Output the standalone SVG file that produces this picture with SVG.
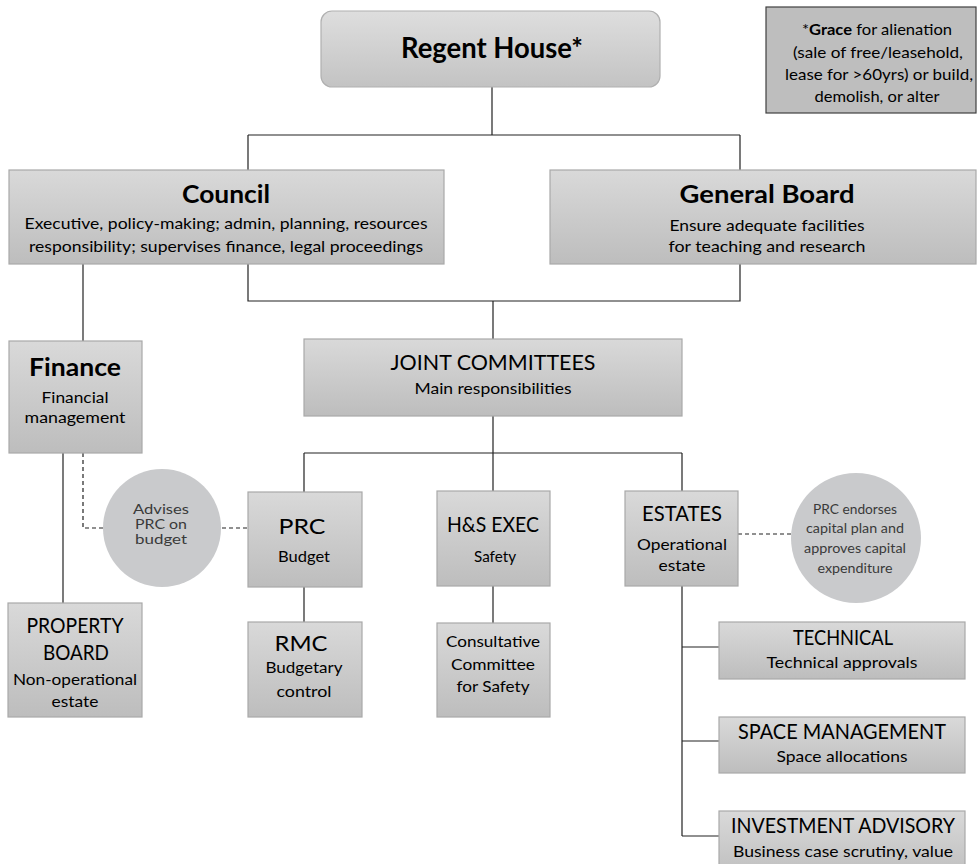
<svg xmlns="http://www.w3.org/2000/svg" width="977" height="864" viewBox="0 0 977 864">
<defs>
<linearGradient id="g" x1="0" y1="0" x2="0" y2="1">
<stop offset="0" stop-color="#d9d9d9"/>
<stop offset="1" stop-color="#bdbdbd"/>
</linearGradient>
<linearGradient id="g2" x1="0" y1="0" x2="0" y2="1">
<stop offset="0" stop-color="#dedede"/>
<stop offset="1" stop-color="#c3c3c3"/>
</linearGradient>
</defs>
<style>
.box{fill:url(#g);stroke:#a9a9a9;stroke-width:1.2}
.circ{fill:#c9cacc}
.t{font-family:Lato,"Open Sans","Liberation Sans",sans-serif;fill:#000;text-anchor:middle}
.b{font-weight:bold}
.h{font-size:21px}
.ct{font-family:Lato,"Open Sans","Liberation Sans",sans-serif;fill:#3a3a3a;text-anchor:middle}
.ln{fill:none;stroke:#222;stroke-width:1.2}
.dash{fill:none;stroke:#222;stroke-width:1.2;stroke-dasharray:4 3}
</style>
<rect width="977" height="864" fill="#fff"/>
<g id="connectors">
<path class="ln" d="M492,87V135M248,135H740M248,135V170M740,135V170"/>
<path class="ln" d="M248,264V301H740V264M493,301V339"/>
<path class="ln" d="M83,264V341"/>
<path class="ln" d="M493,416V453M304,453H682M304,453V492M493,453V491M682,453V491"/>
<path class="ln" d="M63,453V603"/>
<path class="dash" d="M83,453V528H103M222,528H248"/>
<path class="ln" d="M304,587V622"/>
<path class="ln" d="M493,586V623"/>
<path class="ln" d="M682,586V836M682,647H719M682,741H719M682,836H719"/>
<path class="dash" d="M738,534H791"/>
</g>
<g id="regent-house">
<rect x="321" y="11" width="339" height="76" rx="11" fill="url(#g2)" stroke="#b0b0b0" stroke-width="1.2"/>
<text class="t b" x="492" y="58" font-size="28" textLength="182" lengthAdjust="spacingAndGlyphs">Regent House*</text>
</g>
<g id="grace-note">
<rect x="766" y="7" width="210" height="106" fill="#bebebe" stroke="#404040" stroke-width="1.2"/>
<text class="t" x="877" y="35" font-size="16" textLength="150" lengthAdjust="spacingAndGlyphs">*<tspan font-weight="bold">Grace</tspan> for alienation</text>
<text class="t" x="878" y="58" font-size="16" textLength="170" lengthAdjust="spacingAndGlyphs">(sale of free/leasehold,</text>
<text class="t" x="879" y="80" font-size="16" textLength="188" lengthAdjust="spacingAndGlyphs">lease for &gt;60yrs) or build,</text>
<text class="t" x="877" y="102" font-size="16" textLength="125" lengthAdjust="spacingAndGlyphs">demolish, or alter</text>
</g>
<g id="council">
<rect class="box" x="9" y="170" width="435" height="94"/>
<text class="t b" x="226" y="203" font-size="24" textLength="88" lengthAdjust="spacingAndGlyphs">Council</text>
<text class="t" x="226" y="229" font-size="16" textLength="403" lengthAdjust="spacingAndGlyphs">Executive, policy-making; admin, planning, resources</text>
<text class="t" x="226" y="252" font-size="16" textLength="394" lengthAdjust="spacingAndGlyphs">responsibility; supervises finance, legal proceedings</text>
</g>
<g id="general-board">
<rect class="box" x="550" y="170" width="426" height="94"/>
<text class="t b" x="767" y="203" font-size="24" textLength="175" lengthAdjust="spacingAndGlyphs">General Board</text>
<text class="t" x="767" y="231" font-size="16" textLength="195" lengthAdjust="spacingAndGlyphs">Ensure adequate facilities</text>
<text class="t" x="767" y="252" font-size="16" textLength="197" lengthAdjust="spacingAndGlyphs">for teaching and research</text>
</g>
<g id="finance">
<rect class="box" x="9" y="341" width="133" height="112"/>
<text class="t b" x="75" y="376" font-size="24" textLength="92" lengthAdjust="spacingAndGlyphs">Finance</text>
<text class="t" x="75" y="403" font-size="16" textLength="67" lengthAdjust="spacingAndGlyphs">Financial</text>
<text class="t" x="75" y="423" font-size="16" textLength="101" lengthAdjust="spacingAndGlyphs">management</text>
</g>
<g id="joint-committees">
<rect class="box" x="304" y="339" width="378" height="77"/>
<text class="t h" x="493" y="370" textLength="205" lengthAdjust="spacingAndGlyphs">JOINT COMMITTEES</text>
<text class="t" x="493" y="394" font-size="16" textLength="157" lengthAdjust="spacingAndGlyphs">Main responsibilities</text>
</g>
<g id="advises-prc">
<circle class="circ" cx="162" cy="528" r="59"/>
<text class="ct" x="161" y="514" font-size="13" textLength="56" lengthAdjust="spacingAndGlyphs">Advises</text>
<text class="ct" x="161" y="529" font-size="13" textLength="52" lengthAdjust="spacingAndGlyphs">PRC on</text>
<text class="ct" x="161" y="544" font-size="13" textLength="52" lengthAdjust="spacingAndGlyphs">budget</text>
</g>
<g id="prc">
<rect class="box" x="248" y="492" width="114" height="95"/>
<text class="t h" x="302" y="534" textLength="47" lengthAdjust="spacingAndGlyphs">PRC</text>
<text class="t" x="304" y="562" font-size="16" textLength="52" lengthAdjust="spacingAndGlyphs">Budget</text>
</g>
<g id="hs-exec">
<rect class="box" x="437" y="491" width="113" height="95"/>
<text class="t h" x="493" y="532" textLength="92" lengthAdjust="spacingAndGlyphs">H&amp;S EXEC</text>
<text class="t" x="495" y="562" font-size="16" textLength="42" lengthAdjust="spacingAndGlyphs">Safety</text>
</g>
<g id="estates">
<rect class="box" x="625" y="491" width="113" height="95"/>
<text class="t h" x="682" y="521" textLength="80" lengthAdjust="spacingAndGlyphs">ESTATES</text>
<text class="t" x="682" y="550" font-size="16" textLength="90" lengthAdjust="spacingAndGlyphs">Operational</text>
<text class="t" x="682" y="571" font-size="16" textLength="47" lengthAdjust="spacingAndGlyphs">estate</text>
</g>
<g id="prc-endorses">
<circle class="circ" cx="856" cy="538" r="65"/>
<text class="ct" x="855" y="514" font-size="14" textLength="84" lengthAdjust="spacingAndGlyphs">PRC endorses</text>
<text class="ct" x="855" y="533" font-size="14" textLength="98" lengthAdjust="spacingAndGlyphs">capital plan and</text>
<text class="ct" x="855" y="553" font-size="14" textLength="102" lengthAdjust="spacingAndGlyphs">approves capital</text>
<text class="ct" x="855" y="573" font-size="14" textLength="75" lengthAdjust="spacingAndGlyphs">expenditure</text>
</g>
<g id="property-board">
<rect class="box" x="8" y="603" width="134" height="114"/>
<text class="t h" x="75" y="633" textLength="97" lengthAdjust="spacingAndGlyphs">PROPERTY</text>
<text class="t h" x="76" y="660" textLength="66" lengthAdjust="spacingAndGlyphs">BOARD</text>
<text class="t" x="75" y="685" font-size="16" textLength="124" lengthAdjust="spacingAndGlyphs">Non-operational</text>
<text class="t" x="75" y="707" font-size="16" textLength="47" lengthAdjust="spacingAndGlyphs">estate</text>
</g>
<g id="rmc">
<rect class="box" x="248" y="622" width="114" height="95"/>
<text class="t h" x="301" y="651" textLength="53" lengthAdjust="spacingAndGlyphs">RMC</text>
<text class="t" x="304" y="673" font-size="16" textLength="77" lengthAdjust="spacingAndGlyphs">Budgetary</text>
<text class="t" x="304" y="697" font-size="16" textLength="55" lengthAdjust="spacingAndGlyphs">control</text>
</g>
<g id="consultative">
<rect class="box" x="437" y="623" width="113" height="94"/>
<text class="t" x="493" y="647" font-size="16" textLength="94" lengthAdjust="spacingAndGlyphs">Consultative</text>
<text class="t" x="493" y="670" font-size="16" textLength="84" lengthAdjust="spacingAndGlyphs">Committee</text>
<text class="t" x="493" y="692" font-size="16" textLength="73" lengthAdjust="spacingAndGlyphs">for Safety</text>
</g>
<g id="technical">
<rect class="box" x="719" y="622" width="246" height="57"/>
<text class="t h" x="843" y="645" textLength="100" lengthAdjust="spacingAndGlyphs">TECHNICAL</text>
<text class="t" x="842" y="668" font-size="16" textLength="151" lengthAdjust="spacingAndGlyphs">Technical approvals</text>
</g>
<g id="space-management">
<rect class="box" x="719" y="717" width="246" height="56"/>
<text class="t h" x="842" y="739" textLength="208" lengthAdjust="spacingAndGlyphs">SPACE MANAGEMENT</text>
<text class="t" x="842" y="762" font-size="16" textLength="131" lengthAdjust="spacingAndGlyphs">Space allocations</text>
</g>
<g id="investment-advisory">
<rect class="box" x="719" y="811" width="246" height="70"/>
<text class="t h" x="843" y="833" textLength="224" lengthAdjust="spacingAndGlyphs">INVESTMENT ADVISORY</text>
<text class="t" x="843" y="857" font-size="16" textLength="220" lengthAdjust="spacingAndGlyphs">Business case scrutiny, value</text>
</g>
</svg>
